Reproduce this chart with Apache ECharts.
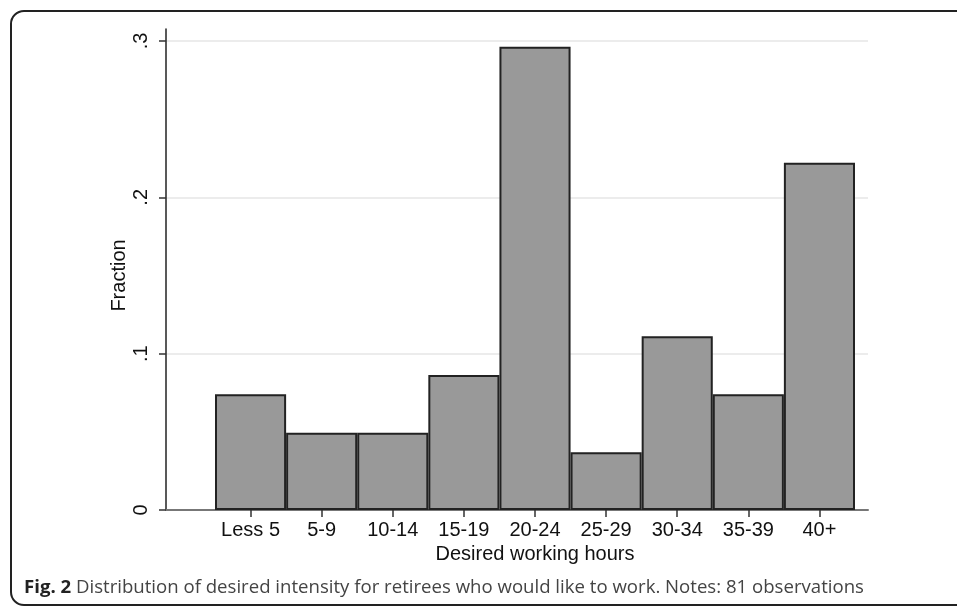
<!DOCTYPE html>
<html>
<head>
<meta charset="utf-8">
<script src="https://cdn.jsdelivr.net/npm/echarts@6/dist/echarts.min.js"></script>
<style>
html,body{margin:0;padding:0;background:#fff;}
#chart{width:957px;height:607px;}
</style>
</head>
<body>
<div id="chart"></div>
<script>
const categories = ['Less 5', '5-9', '10-14', '15-19', '20-24', '25-29', '30-34', '35-39', '40+'];
const fractions = [0.0741, 0.0494, 0.0494, 0.0864, 0.2963, 0.0370, 0.1111, 0.0741, 0.2222];
const yTickLabels = { 0: '0', 0.1: '.1', 0.2: '.2', 0.3: '.3' };
const xTitle = 'Desired working hours';
const yTitle = 'Fraction';
const captionBold = 'Fig. 2';
const captionText = ' Distribution of desired intensity for retirees who would like to work. Notes: 81 observations';

const chart = echarts.init(document.getElementById('chart'));
const labelFont = { fontFamily: 'Liberation Sans, Arial, sans-serif', fontSize: 20, color: '#111' };

chart.setOption({
  animation: false,
  backgroundColor: '#fff',
  grid: [
    { left: 166, right: 89, top: 41, bottom: 97 },
    { left: 215, right: 102, top: 41, bottom: 97 },
    { left: 166, right: 89, top: 29, bottom: 97 }
  ],
  xAxis: [
    { gridIndex: 0, type: 'value', min: 0, max: 1,
      axisLine: { show: true, lineStyle: { color: '#777', width: 2 } },
      axisTick: { show: false }, axisLabel: { show: false }, splitLine: { show: false } },
    { gridIndex: 1, type: 'category', data: categories, boundaryGap: true,
      axisLine: { show: false },
      axisTick: { show: true, alignWithLabel: true, length: 7, lineStyle: { color: '#333', width: 1.5 } },
      axisLabel: Object.assign({ margin: 10, interval: 0 }, labelFont),
      name: xTitle, nameLocation: 'middle', nameGap: 34, nameMoveOverlap: false,
      nameTextStyle: labelFont },
    { gridIndex: 2, type: 'value', min: 0, max: 1, show: false }
  ],
  yAxis: [
    { gridIndex: 0, type: 'value', min: 0, max: 0.3, interval: 0.1,
      axisLine: { show: false },
      axisTick: { show: true, length: 7, lineStyle: { color: '#333', width: 1.5 } },
      axisLabel: Object.assign({ rotate: 90, margin: 15, formatter: v => yTickLabels[Math.round(v * 10) / 10] ?? '' }, labelFont),
      splitLine: { show: true, lineStyle: { color: '#ececec', width: 2 } },
      name: yTitle, nameLocation: 'middle', nameGap: 37, nameRotate: 90, nameMoveOverlap: false,
      nameTextStyle: labelFont },
    { gridIndex: 1, type: 'value', min: 0, max: 0.3, show: false },
    { gridIndex: 2, type: 'value', min: 0, max: 1,
      axisLine: { show: true, onZero: false, lineStyle: { color: '#222', width: 1.5 } },
      axisTick: { show: false }, axisLabel: { show: false }, splitLine: { show: false } }
  ],
  series: [
    { type: 'bar', xAxisIndex: 1, yAxisIndex: 1, data: fractions,
      barCategoryGap: '0%', z: 5,
      itemStyle: { color: '#999999', borderColor: '#222', borderWidth: 2 } }
  ],
  graphic: [
    { type: 'rect', shape: { x: 11, y: 11, width: 980, height: 594, r: 13 },
      style: { fill: 'none', stroke: '#222', lineWidth: 2 }, z: 10, silent: true },
    { type: 'text', left: 24, top: 578,
      style: {
        text: '{b|' + captionBold + '}{n|' + captionText + '}',
        rich: {
          b: { fontFamily: 'Open Sans, sans-serif', fontSize: 18.6, fontWeight: 'bold', fill: '#222' },
          n: { fontFamily: 'Open Sans, sans-serif', fontSize: 18.6, fill: '#444' }
        }
      }, z: 10 }
  ]
});
</script>
</body>
</html>
